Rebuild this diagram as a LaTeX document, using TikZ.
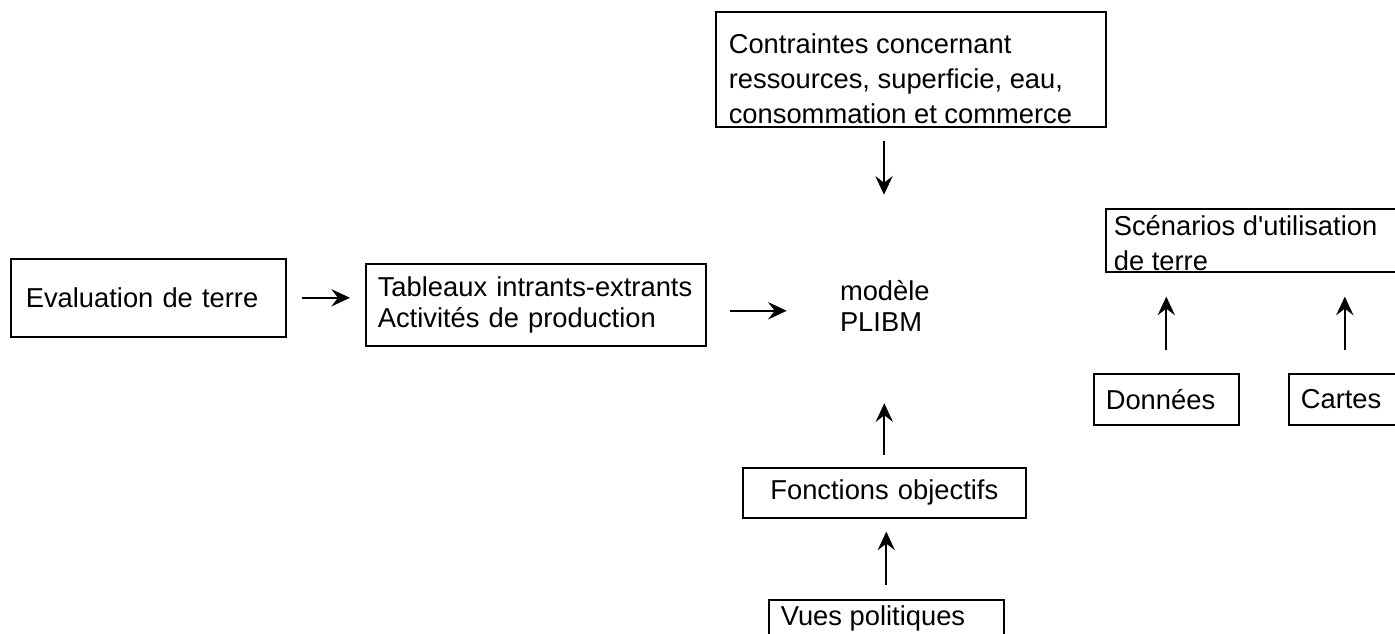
\documentclass[tikz,border=0pt]{standalone}
\usepackage{fontspec}
\setmainfont{Liberation Sans}
\usetikzlibrary{arrows.meta,calc}
\newcommand\dfont{\fontsize{20.5pt}{23.5pt}\selectfont}
\newcommand\widefont{\fontsize{20.5pt}{26.25pt}\selectfont}
\begin{document}
\begin{tikzpicture}[x=0.75pt,y=-0.75pt,
  box/.style={draw, line width=1.2pt, inner ysep=0pt, anchor=north west, font=\dfont, align=left},
  arr/.style={line width=1.4pt, -{Stealth[length=14pt,width=13pt,inset=5pt]}}]
\useasboundingbox (0,0) rectangle (1395,634);
\clip (0,0) rectangle (1395,634);
\fill[white] (0,0) rectangle (1395,634);

% boxes
\node[box, inner xsep=11.25pt, text width=183.75pt, minimum height=58.5pt] (eval) at (10,258) {Evaluation de terre};
\node[box, inner xsep=9pt, text width=237pt, minimum height=61.5pt] (tab) at (365,263) {Tableaux intrants-extrants\\Activités de production};
\node[box, inner xsep=9.75pt] (contr) at (715,11)
  {\parbox[c][86.25pt][b]{273pt}{\widefont\raggedright Contraintes concernant\\ressources, superficie, eau,\\consommation et commerce\par\vspace*{2.5pt}}};
\node[box, inner xsep=6pt] (scen) at (1105,208)
  {\parbox[c][47.25pt][b]{209.25pt}{\widefont\raggedright Scénarios d\textquotesingle utilisation\\de terre\par\vspace*{1pt}}};
\node[box, inner xsep=9pt, text width=90.75pt, minimum height=38.25pt] (donn) at (1093,373) {Données};
\node[box, inner xsep=9pt, text width=66pt, minimum height=38.25pt] (cart) at (1288,373) {Cartes};
\node[box, inner xsep=9pt, text width=194.25pt, minimum height=37.5pt, align=center] (fonc) at (742,467) {Fonctions objectifs};
\node[box, inner xsep=9pt] (vues) at (768,599)
  {\parbox[c][45pt][t]{158.25pt}{\raggedright\vspace*{4.5pt}Vues politiques}};

% central model (no frame)
\node[inner sep=0pt, font=\dfont] (model) at (884,299)
  {\parbox[c][156pt][c]{145.5pt}{\leftskip=39.75pt\vspace*{10.5pt}modèle\\PLIBM}};

% connectors
\draw[arr, shorten <=11.25pt, shorten >=11.25pt] (eval.east) -- (eval.east -| tab.west);
\draw[arr, shorten <=17.25pt] ([yshift=-4.5pt]tab.east) -- ([yshift=-4.5pt]tab.east -| model.west);
\draw[arr, shorten <=9.75pt] (contr.south -| model.north) -- (model.north);
\draw[arr, shorten <=9pt] (fonc.north) -- (fonc.north |- model.south);
\draw[arr, shorten <=10.5pt, shorten >=9.75pt] (vues.north) -- (vues.north |- fonc.south);
\draw[arr, shorten <=17.25pt, shorten >=18pt] (donn.north) -- (donn.north |- scen.south);
\draw[arr, shorten <=17.25pt, shorten >=18pt] (cart.north) -- (cart.north |- scen.south);
\end{tikzpicture}
\end{document}
